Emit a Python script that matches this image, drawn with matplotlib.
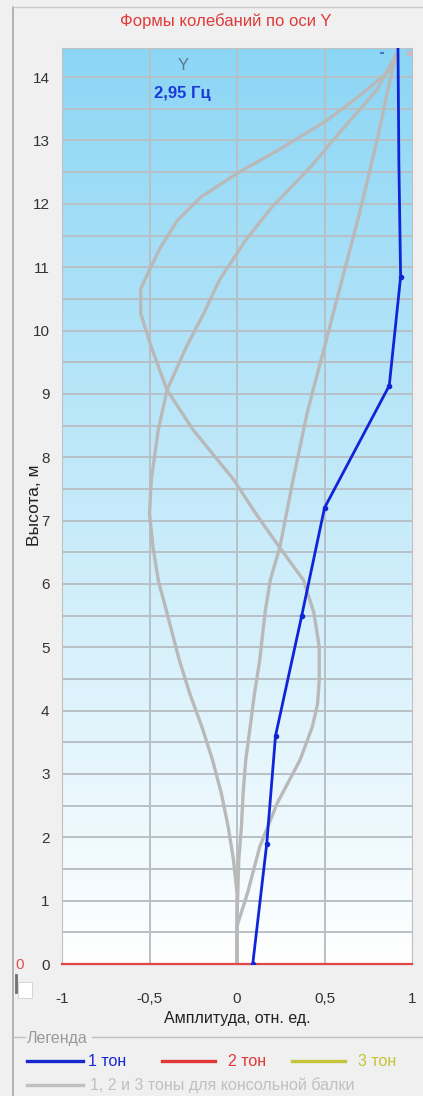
import numpy as np
import matplotlib
matplotlib.use("Agg")
import matplotlib.pyplot as plt
from matplotlib.lines import Line2D

plt.rcParams['font.family'] = ['Liberation Sans', 'DejaVu Sans']

# measured 1st tone
tone1_h = [0, 1.9, 3.6, 5.5, 7.2, 9.13, 10.85, 12.65, 14.45]
tone1_a = [0.09, 0.17, 0.22, 0.37, 0.5, 0.87, 0.935, 0.925, 0.92]

# cantilever beam shapes
cant1_h = [0, 0.7, 1.64, 2.16, 2.7, 3.22, 3.74, 4.27, 4.8, 5.54, 6.06, 6.58, 7.64, 8.16, 8.69,
           9.22, 9.74, 10.27, 10.8, 11.85, 13.0, 13.9, 14.37]
cant1_a = [0, 0, 0.01, 0.025, 0.035, 0.05, 0.075, 0.1, 0.13, 0.16, 0.19, 0.245, 0.32, 0.36, 0.4,
           0.45, 0.5, 0.55, 0.6, 0.7, 0.8, 0.87, 0.91]

cant2_h = [0, 0.7, 1.12, 1.64, 2.16, 2.7, 3.22, 3.74, 4.27, 4.8, 5.54, 6.06, 6.58, 7.1, 7.64,
           8.43, 9.06, 9.74, 10.27, 10.8, 11.43, 11.95, 12.58, 13.17, 13.8, 14.37]
cant2_a = [0, 0, 0, -0.02, -0.05, -0.09, -0.14, -0.2, -0.27, -0.33, -0.4, -0.45, -0.48, -0.5, -0.49,
           -0.45, -0.4, -0.29, -0.19, -0.1, 0.05, 0.2, 0.42, 0.6, 0.8, 0.91]

cant3_h = [0, 0.6, 1.12, 1.85, 2.54, 3.22, 3.74, 4.1, 4.48, 5.0, 5.54, 6.06, 6.57, 7.1, 7.65,
           8.43, 9.06, 9.74, 10.27, 10.66, 10.9, 11.3, 11.74, 12.1, 12.48, 12.84, 13.31, 13.75,
           14.15, 14.37]
cant3_a = [0, 0, 0.06, 0.13, 0.23, 0.36, 0.43, 0.46, 0.47, 0.47, 0.44, 0.38, 0.245, 0.11, -0.02,
           -0.25, -0.40, -0.49, -0.55, -0.55, -0.51, -0.44, -0.34, -0.21, 0, 0.23, 0.51, 0.72,
           0.89, 0.91]

x_ticks = [-1, -0.5, 0, 0.5, 1]
x_ticklabels = ['-1', '-0,5', '0', '0,5', '1']
y_ticks = list(range(0, 15))
y_top = 14.46

W, H = 423, 1096
fig = plt.figure(figsize=(W / 100, H / 100), dpi=100)
fig.patch.set_facecolor('#f0f0f0')

# panel border
fig.add_artist(Line2D([13 / W, 13 / W], [0, 1 - 7 / H], color='#a8a8a8', lw=1.2))
fig.add_artist(Line2D([13 / W, 1], [1 - 7 / H, 1 - 7 / H], color='#c8c8c8', lw=1.0))

ax = fig.add_axes([62 / W, 1 - 964 / H, 350 / W, 916 / H])
ax.set_xlim(-1, 1)
ax.set_ylim(0, y_top)

# background gradient
top_c = np.array([140, 214, 245]) / 255
bot_c = np.array([255, 255, 255]) / 255
t = np.linspace(0, 1, 256)[:, None]
grad = (t * top_c + (1 - t) * bot_c)[:, None, :]
grad = np.repeat(grad, 2, axis=1)
ax.imshow(grad, extent=[-1, 1, 0, y_top], origin='lower', aspect='auto', zorder=0)

for yv in np.arange(0.5, 14.5, 0.5):
    ax.axhline(yv, color='#b8c0c6', lw=1.4, zorder=1)
for xv in [-0.5, 0, 0.5]:
    ax.axvline(xv, color='#b8c0c6', lw=1.4, zorder=1)

gray = '#b9b9b9'
for a, h in [(cant1_a, cant1_h), (cant2_a, cant2_h), (cant3_a, cant3_h)]:
    ax.plot(a, h, color=gray, lw=2.4, zorder=2, solid_capstyle='round', solid_joinstyle='round')
ax.plot([0.98], [14.38], marker='s', markersize=2.5, color='#c8b8c8', zorder=2, clip_on=False)

ax.axhline(0, color='#e04848', lw=1.6, zorder=3, clip_on=False)

ax.plot(tone1_a, tone1_h, color='#1024d8', lw=2.0, zorder=4, marker='o', markersize=3,
        markevery=list(range(7)), solid_joinstyle='round')
ax.plot([0.83], [14.38], marker='_', markersize=3, mew=1.5, color='#5070d0', zorder=4, clip_on=False)

ax.text(-0.31, 14.18, 'Y', color='#5a7890', fontsize=12, ha='center', va='center', zorder=5)
ax.text(-0.31, 13.74, '2,95 Гц', color='#1a3ad8', fontsize=12, fontweight='bold',
        ha='center', va='center', zorder=5)

for s in ax.spines.values():
    s.set_color('#c0c0c0')
ax.tick_params(length=0, labelsize=11, labelcolor='#333333')
ax.tick_params(axis='y', pad=9)
ax.tick_params(axis='x', pad=20)
ax.set_xticks(x_ticks)
ax.set_xticklabels(x_ticklabels)
ax.set_yticks(y_ticks)
ax.set_xlabel('Амплитуда, отн. ед.', fontsize=11.5, color='#222222')
ax.xaxis.set_label_coords(0.5, -(1011 - 964) / 916)
fig.text(34 / W, 1 - 505 / H, 'Высота, м', rotation=90, fontsize=12.5, color='#222222',
         ha='center', va='center')

fig.text(226 / W, 1 - 21 / H, 'Формы колебаний по оси Y', color='#e03a3a',
         fontsize=12, ha='center', va='center')
fig.text(20 / W, 1 - 965 / H, '0', color='#e05050', fontsize=11, ha='center', va='center')
fig.add_artist(Line2D([16 / W, 16 / W], [1 - 975 / H, 1 - 992 / H], color='#707070', lw=2))
fig.add_artist(plt.Rectangle((18 / W, 1 - 998 / H), 14 / W, 16 / H, facecolor='white',
                             edgecolor='#d0d0d0', lw=0.6))

# legend group box
fig.add_artist(Line2D([13 / W, 25 / W], [1 - 1037 / H] * 2, color='#c0c0c0', lw=1.0))
fig.add_artist(Line2D([92 / W, 1], [1 - 1037 / H] * 2, color='#c0c0c0', lw=1.0))
fig.text(27 / W, 1 - 1038 / H, 'Легенда', color='#9a9a9a', fontsize=11.5, va='center')
legend_rows = [
    (27, 83, 1061, '#1828d0', 88, '1 тон'),
    (162, 215, 1061, '#e03838', 228, '2 тон'),
    (292, 345, 1061, '#c4c43a', 358, '3 тон'),
    (27, 83, 1085, '#c0c0c0', 90, '1, 2 и 3 тоны для консольной балки'),
]
for x0, x1, yy, c, xt, label in legend_rows:
    fig.add_artist(Line2D([x0 / W, x1 / W], [1 - yy / H] * 2, color=c, lw=2.4))
    fig.text(xt / W, 1 - yy / H, label, color=c, fontsize=11.5, va='center')

fig.savefig('out.png', dpi=100, facecolor=fig.get_facecolor())
